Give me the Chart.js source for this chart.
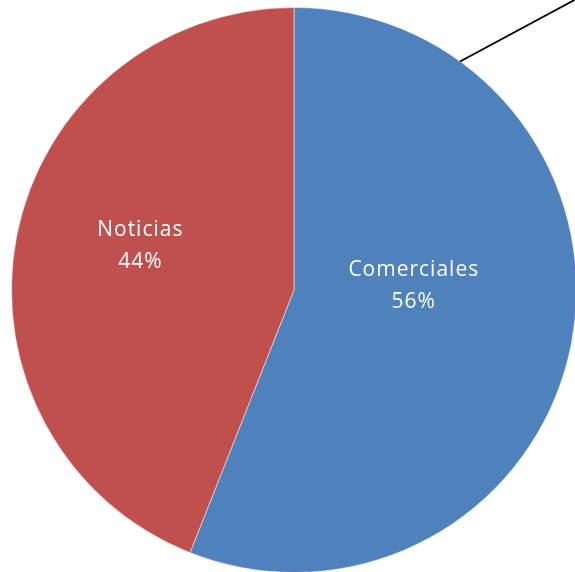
<!DOCTYPE html>
<html>
<head>
<meta charset="utf-8">
<script src="https://cdn.jsdelivr.net/npm/chart.js@4.4.1/dist/chart.umd.min.js"></script>
<style>
  html, body { margin: 0; padding: 0; overflow: hidden; background: #fff; }
  #wrap { position: absolute; left: 0; top: 0; width: 600px; height: 600px; }
</style>
</head>
<body>
<div id="wrap"><canvas id="myChart" width="600" height="600"></canvas></div>
<script>
var labels = ['Comerciales', 'Noticias'];
var values = [56, 44];
var colors = ['#4F81BD', '#C0504D'];

// label spots, as fractions of the radius from the centre
var labelSpots = [[0.424, -0.014], [-0.544, -0.155]];

var labelPlugin = {
    id: 'pieLabels',
    afterDatasetsDraw: function (chart) {
        var ctx = chart.ctx;
        var arcs = chart.getDatasetMeta(0).data;
        var cx = arcs[0].x, cy = arcs[0].y, r = arcs[0].outerRadius;
        ctx.save();

        // leader line going off the top right
        var a = 36 * Math.PI / 180;
        ctx.strokeStyle = '#000';
        ctx.lineWidth = 1.8;
        ctx.beginPath();
        ctx.moveTo(cx + r * Math.sin(a), cy - r * Math.cos(a));
        ctx.lineTo(580, -3);
        ctx.stroke();

        ctx.fillStyle = '#fff';
        ctx.font = '21px "Open Sans"';
        ctx.letterSpacing = '1px';
        ctx.textAlign = 'center';
        ctx.textBaseline = 'middle';
        var total = values.reduce(function (s, v) { return s + v; }, 0);
        for (var i = 0; i < labels.length; i++) {
            var x = cx + labelSpots[i][0] * r;
            var y = cy + labelSpots[i][1] * r;
            ctx.fillText(labels[i], x, y - 16);
            ctx.fillText(Math.round(values[i] / total * 100) + '%', x, y + 16);
        }
        ctx.restore();
    }
};

var data = {
    labels: labels,
    datasets: [{
        data: values,
        backgroundColor: colors,
        borderColor: 'rgba(255,255,255,0.5)',
        borderWidth: 1
    }]
};

var config = {
    type: 'pie',
    data: data,
    options: {
        responsive: false,
        animation: false,
        layout: { padding: { left: 11, right: 23, top: 7, bottom: 27 } },
        plugins: {
            legend: { display: false },
            tooltip: { enabled: false }
        }
    },
    plugins: [labelPlugin]
};

new Chart(document.getElementById('myChart'), config);
</script>
</body>
</html>
